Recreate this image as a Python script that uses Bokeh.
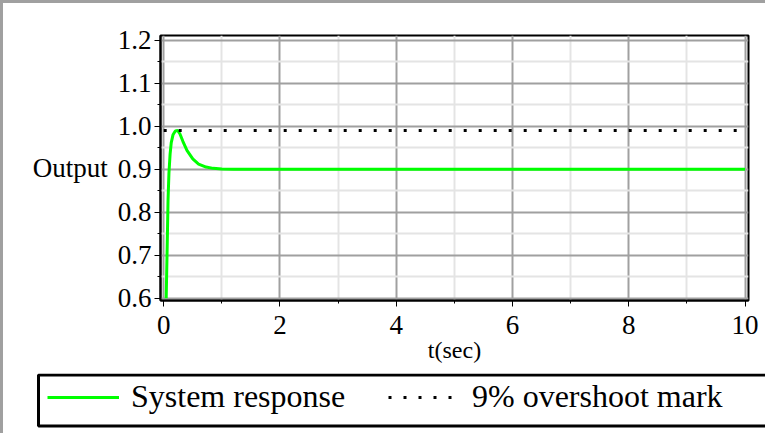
from bokeh.plotting import figure
from bokeh.layouts import column
from bokeh.models import (FixedTicker, NumeralTickFormatter, Range1d, Legend, LegendItem,
                          BoxAnnotation)
from bokeh.embed import file_html
from bokeh.resources import INLINE

# --- data ---
t_resp = [0.043, 0.06, 0.075, 0.09, 0.11, 0.13, 0.16, 0.20, 0.24, 0.28, 0.33, 0.40,
          0.50, 0.60, 0.73, 0.85, 1.0, 1.2, 2.0, 4.0, 6.0, 8.0, 10.0]
y_resp = [0.60, 0.72, 0.83, 0.89, 0.935, 0.962, 0.980, 0.989, 0.990, 0.982, 0.965, 0.944,
          0.924, 0.912, 0.905, 0.902, 0.9005, 0.900, 0.900, 0.900, 0.900, 0.900, 0.900]
t_mark = [0.0, 10.0]
y_mark = [0.99, 0.99]

x_ticks = [0, 2, 4, 6, 8, 10]
x_minor = [1, 3, 5, 7, 9]
y_ticks = [0.6, 0.7, 0.8, 0.9, 1.0, 1.1, 1.2]
y_minor = [0.65, 0.75, 0.85, 0.95, 1.05, 1.15]
series_labels = ["System response", "9% overshoot mark"]

FONT = "Liberation Serif"
GREEN = "#00ff00"

p = figure(width=762, height=370, output_backend="svg", toolbar_location=None,
           x_range=Range1d(-0.055, 10.06), y_range=Range1d(0.5947, 1.211),
           min_border_left=157, min_border_right=17, min_border_top=32, min_border_bottom=73)

p.outline_line_color = "black"
p.outline_line_width = 2

for ax in (p.xaxis[0], p.yaxis[0]):
    ax.axis_line_width = 2
    ax.axis_line_color = "black"
    ax.major_tick_line_color = "black"
    ax.minor_tick_line_color = "black"
    ax.major_tick_line_width = 1
    ax.minor_tick_line_width = 1
    ax.major_tick_out = 6
    ax.major_tick_in = 0
    ax.minor_tick_out = 3
    ax.minor_tick_in = 0
    ax.major_label_text_font = FONT
    ax.major_label_text_font_size = "27px"
    ax.major_label_text_color = "black"
    ax.axis_label_text_font = FONT
    ax.axis_label_text_font_style = "normal"
    ax.axis_label_text_color = "black"

p.xaxis[0].ticker = FixedTicker(ticks=x_ticks, minor_ticks=x_minor)
p.yaxis[0].ticker = FixedTicker(ticks=y_ticks, minor_ticks=y_minor)
p.yaxis[0].formatter = NumeralTickFormatter(format="0.0")
p.xaxis[0].major_label_standoff = 9
p.yaxis[0].major_label_standoff = 3

p.xaxis[0].axis_label = "t(sec)"
p.xaxis[0].axis_label_text_font_size = "24px"
p.xaxis[0].axis_label_standoff = 0

p.yaxis[0].axis_label = "Output"
p.yaxis[0].axis_label_text_font_size = "27px"
p.yaxis[0].axis_label_standoff = 7
if hasattr(p.yaxis[0], "axis_label_orientation"):
    p.yaxis[0].axis_label_orientation = "horizontal"

for g in (p.xgrid[0], p.ygrid[0]):
    g.grid_line_color = "#a0a0a0"
    g.grid_line_width = 2
    g.minor_grid_line_color = "#e4e4e4"
    g.minor_grid_line_width = 2

p.line(t_resp, y_resp, line_color=GREEN, line_width=3)
p.line(t_mark, y_mark, line_color="black", line_width=3, line_dash="3 12")

# legend strip underneath: same series drawn out of view, used only as legend proxies
p2 = figure(width=762, height=60, output_backend="svg", toolbar_location=None,
            x_range=Range1d(0, 1), y_range=Range1d(5, 6),
            x_axis_type=None, y_axis_type=None, min_border=0)
if hasattr(p2, "frame_align"):
    p2.frame_align = False
p2.grid.visible = False
p2.outline_line_color = None
g1 = p2.line(t_resp, y_resp, line_color=GREEN, line_width=3)
g2 = p2.line(t_mark, y_mark, line_color="black", line_width=3, line_dash="3 12")

legend = Legend(items=[LegendItem(label=series_labels[0], renderers=[g1]),
                       LegendItem(label=series_labels[1], renderers=[g2])],
                orientation="horizontal", location=(36, 10),
                label_text_font=FONT, label_text_font_size="32px", label_text_color="black",
                glyph_width=72, glyph_height=30, label_standoff=12, spacing=0,
                label_width=257, padding=8, margin=0,
                border_line_alpha=0, background_fill_alpha=0)
p2.add_layout(legend, "center")

# legend frame (runs past the right edge, as in the original)
p2.add_layout(BoxAnnotation(left=35 / 762, right=1.05, bottom=5 + 7.5 / 60, top=5 + 58.5 / 60,
                            fill_alpha=0, line_color="black", line_width=3, line_alpha=1.0))

layout = column(p, p2, spacing=0,
                styles={"border-left": "3px solid #a0a0a0", "border-top": "3px solid #a0a0a0"})

open("out.html", "w").write(file_html(layout, INLINE))
